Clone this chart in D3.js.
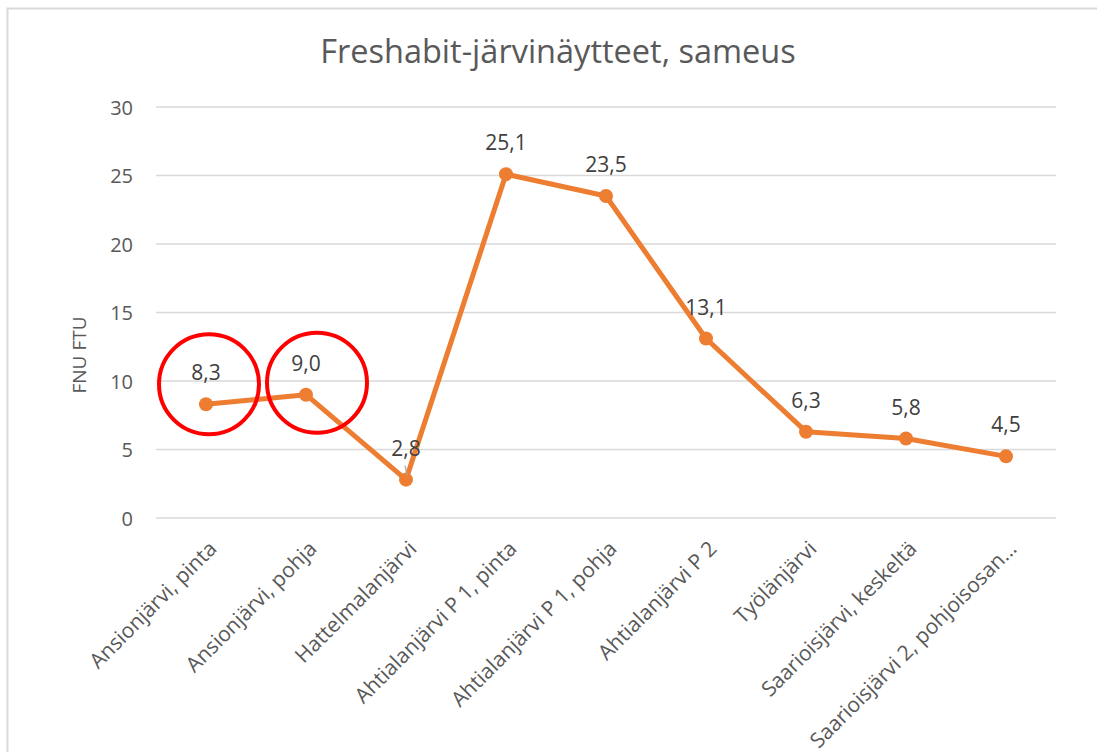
<!DOCTYPE html>
<html>
<head>
<meta charset="utf-8">
<script src="https://cdn.jsdelivr.net/npm/d3@7"></script>
<style>
    body { margin: 0; background: #fff; }
    text { font-family: "Open Sans", "Noto Sans", sans-serif; fill: #595959; }
</style>
</head>
<body>
<svg id="chart" width="1097" height="752"></svg>
<script>
var categories = ['Ansionjärvi, pinta', 'Ansionjärvi, pohja', 'Hattelmalanjärvi', 'Ahtialanjärvi P 1, pinta',
    'Ahtialanjärvi P 1, pohja', 'Ahtialanjärvi P 2', 'Työlänjärvi', 'Saarioisjärvi, keskeltä',
    'Saarioisjärvi 2, pohjoisosan...'];
var values = [8.3, 9.0, 2.8, 25.1, 23.5, 13.1, 6.3, 5.8, 4.5];
var yTicks = [0, 5, 10, 15, 20, 25, 30];
var circled = [0, 1]; // points marked with a red ring

var svg = d3.select("#chart");

// outer frame (only top/left edge visible in the picture)
svg.append("rect")
    .attr("x", 7.5).attr("y", 8.5)
    .attr("width", 1200).attr("height", 900)
    .attr("fill", "none")
    .attr("stroke", "#d9d9d9")
    .attr("stroke-width", 2);

var x = d3.scaleBand().domain(categories).range([156, 1056]);
var y = d3.scaleLinear().domain([0, 30]).range([518, 107]);

// gridlines
svg.append("g")
    .selectAll("line")
    .data(yTicks)
    .enter().append("line")
    .attr("x1", 156).attr("x2", 1056)
    .attr("y1", function(d) { return y(d); })
    .attr("y2", function(d) { return y(d); })
    .attr("stroke", "#d9d9d9")
    .attr("stroke-width", 1.3);

// y axis labels
var yAxis = svg.append("g")
    .attr("transform", "translate(133,0)")
    .call(d3.axisLeft(y).tickValues(yTicks).tickSize(0).tickPadding(0));
yAxis.attr("font-size", 20).attr("font-family", null);
yAxis.select(".domain").remove();
yAxis.selectAll("text")
    .attr("fill", "#595959")
    .attr("dy", "0.35em");

// x axis labels
var xAxis = svg.append("g")
    .attr("transform", "translate(0,518)")
    .call(d3.axisBottom(x).tickSize(0).tickPadding(0));
xAxis.attr("font-size", 21).attr("font-family", null);
xAxis.select(".domain").remove();
xAxis.selectAll("text")
    .attr("fill", "#595959")
    .attr("text-anchor", "end")
    .attr("dy", 0)
    .attr("y", 0)
    .attr("transform", "translate(12,32) rotate(-45)");

// title
svg.append("text")
    .attr("x", 558).attr("y", 63)
    .attr("text-anchor", "middle")
    .attr("font-size", 32.5)
    .text("Freshabit-järvinäytteet, sameus");

// y axis title
svg.append("text")
    .attr("transform", "translate(86,355) rotate(-90)")
    .attr("text-anchor", "middle")
    .attr("font-size", 19)
    .text("FNU FTU");

function cx(i) { return x(categories[i]) + x.bandwidth() / 2; }

var line = d3.line()
    .x(function(d, i) { return cx(i); })
    .y(function(d) { return y(d); });

svg.append("path")
    .datum(values)
    .attr("d", line)
    .attr("fill", "none")
    .attr("stroke", "#ED7D31")
    .attr("stroke-width", 5)
    .attr("stroke-linejoin", "round");

svg.append("g")
    .selectAll("circle")
    .data(values)
    .enter().append("circle")
    .attr("cx", function(d, i) { return cx(i); })
    .attr("cy", function(d) { return y(d); })
    .attr("r", 7)
    .attr("fill", "#ED7D31");

// leader line for the low label
svg.append("line")
    .attr("x1", cx(2) - 1).attr("y1", y(values[2]) - 14)
    .attr("x2", cx(2) + 1).attr("y2", y(values[2]) - 4)
    .attr("stroke", "#a6a6a6")
    .attr("stroke-width", 1.2);

// data labels
svg.append("g")
    .selectAll("text")
    .data(values)
    .enter().append("text")
    .attr("x", function(d, i) { return cx(i); })
    .attr("y", function(d) { return y(d) - 24; })
    .attr("text-anchor", "middle")
    .attr("font-size", 21)
    .style("fill", "#404040")
    .text(function(d) { return d.toFixed(1).replace(".", ","); });

// red rings
svg.append("g")
    .selectAll("circle")
    .data(circled)
    .enter().append("circle")
    .attr("cx", function(i) { return cx(i) + (i == 0 ? 3 : 11); })
    .attr("cy", function(i) { return y(values[i]) + (i == 0 ? -20 : -12); })
    .attr("r", 50)
    .attr("fill", "none")
    .attr("stroke", "#FF0000")
    .attr("stroke-width", 4);
</script>
</body>
</html>
